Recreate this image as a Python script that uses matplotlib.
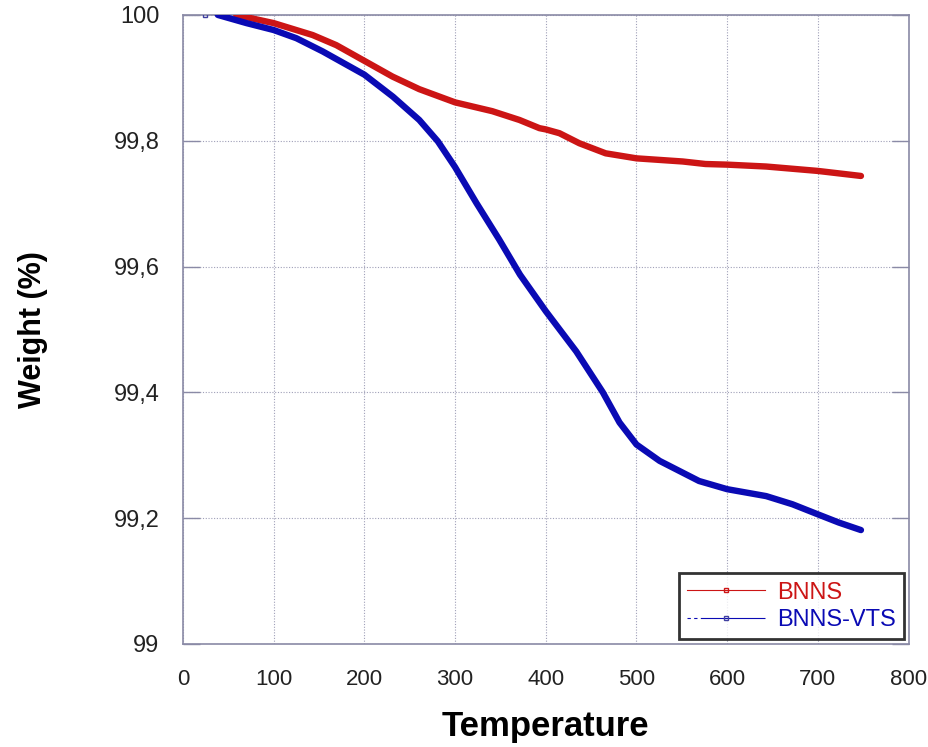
import matplotlib.pyplot as plt
from matplotlib.lines import Line2D
from matplotlib.ticker import FuncFormatter

# TGA curves, temperature vs remaining weight
temp_bnns = [58.7, 100, 143, 169, 200, 231, 260.5, 300, 341, 371, 393, 400, 415, 437,
             466, 500, 551, 576, 600, 643, 700, 747.5]
weight_bnns = [100.0, 99.987, 99.968, 99.952, 99.927, 99.902, 99.882, 99.861, 99.847,
               99.833, 99.820, 99.818, 99.812, 99.796, 99.780, 99.772, 99.767, 99.763,
               99.762, 99.759, 99.752, 99.744]

temp_vts = [38.4, 70, 100, 125, 154, 200, 231.5, 260.5, 281, 300, 323.5, 348.6, 371.6,
            400, 433.6, 462.9, 481.3, 500, 525.5, 569, 600, 643, 672, 700, 723, 747.5]
weight_vts = [100.0, 99.987, 99.976, 99.963, 99.942, 99.905, 99.870, 99.833, 99.799,
              99.758, 99.701, 99.643, 99.587, 99.529, 99.465, 99.400, 99.352, 99.317,
              99.291, 99.259, 99.246, 99.235, 99.222, 99.206, 99.193, 99.181]

# first recorded point of BNNS-VTS (square marker, before the thick trace)
vts_first = (23.7, 100.0)

red = '#cc1515'
blue = '#0a0ab4'
frame = '#8a8aa6'

plt.rcParams['font.family'] = ['Liberation Sans', 'DejaVu Sans']

fig = plt.figure(figsize=(9.29, 7.47), dpi=100)
ax = fig.add_axes([0.197, 0.138, 0.781, 0.842])

ax.plot(temp_bnns, weight_bnns, color=red, lw=4.6, solid_capstyle='round',
        solid_joinstyle='round', zorder=3)
ax.plot(temp_vts, weight_vts, color=blue, lw=4.6, solid_capstyle='round',
        solid_joinstyle='round', zorder=3)
ax.plot([vts_first[0]], [vts_first[1]], marker='s', ms=3.5, mfc='none', mec='#4040a0',
        mew=1, ls='none', zorder=3)

ax.set_xlim(0, 800)
ax.set_ylim(99, 100)
ax.set_xticks(range(0, 801, 100))
ax.set_yticks([99, 99.2, 99.4, 99.6, 99.8, 100])


def comma_fmt(v, pos):
    s = ('%.1f' % v).rstrip('0').rstrip('.')
    return s.replace('.', ',')


ax.yaxis.set_major_formatter(FuncFormatter(comma_fmt))

ax.grid(True, color='#a0a0b8', ls=(0, (1, 1.5)), lw=0.8)
for sp in ax.spines.values():
    sp.set_color(frame)
    sp.set_linewidth(1.2)

ax.tick_params(axis='y', direction='in', length=12, width=1, color=frame,
               right=True, labelsize=17, pad=17, labelcolor='#222222')
ax.tick_params(axis='x', length=0, labelsize=16, pad=18, labelcolor='#222222')

ax.set_xlabel('Temperature', fontsize=25, fontweight='bold')
ax.xaxis.set_label_coords(0.5, -0.132)
ax.xaxis.label.set_va('center')
ax.set_ylabel('Weight (%)', fontsize=22, fontweight='bold', labelpad=47)

handles = [
    Line2D([], [], color=red, lw=0.8, marker='s', ms=3, mfc='none', mec=red),
    Line2D([], [], color=blue, lw=0.8, marker='s', ms=3, mfc='none', mec='#4040a0',
           dashes=(3, 3, 3, 3, 60, 1)),
]
leg = ax.legend(handles, ['BNNS', 'BNNS-VTS'], loc='lower right',
                bbox_to_anchor=(1.0, 0.0), fontsize=17, frameon=True,
                fancybox=False, handlelength=3.3, handletextpad=0.5,
                borderpad=0.35, labelspacing=0.22, borderaxespad=0.2)
leg.get_frame().set_edgecolor('black')
leg.get_frame().set_linewidth(2)
for txt, c in zip(leg.get_texts(), [red, blue]):
    txt.set_color(c)

fig.savefig('out.png', dpi=100)
